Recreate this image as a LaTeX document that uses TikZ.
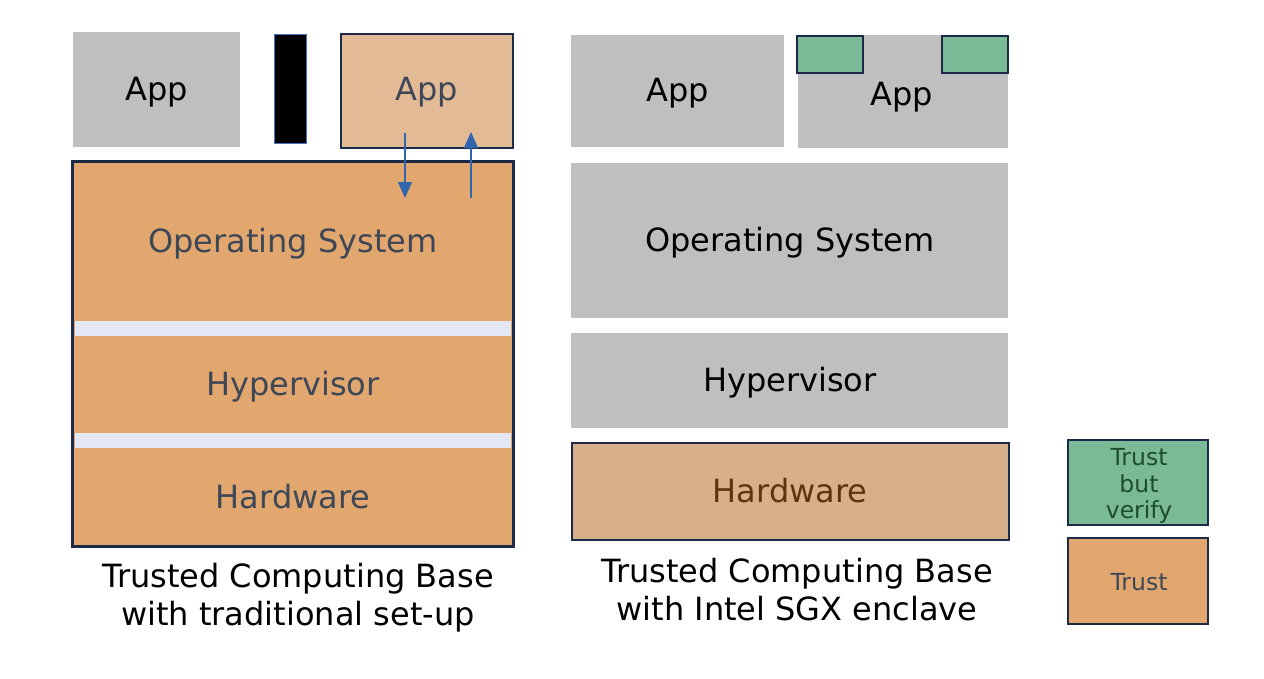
\documentclass[tikz,border=0pt]{standalone}
\usepackage{fontspec}
\setmainfont{DejaVu Sans}
\usetikzlibrary{arrows.meta}
\definecolor{boxgray}{HTML}{BFBFBF}
\definecolor{trustor}{HTML}{E2A76F}
\definecolor{lightor}{HTML}{E3BA96}
\definecolor{hwor}{HTML}{D8AF8B}
\definecolor{verigreen}{HTML}{7BBA96}
\definecolor{navy}{HTML}{1C2A48}
\definecolor{stripc}{HTML}{E3E8F4}
\definecolor{txtgray}{HTML}{3E4756}
\definecolor{arrblue}{HTML}{2F66AD}
\definecolor{barblue}{HTML}{4472C4}
\definecolor{hwtxt}{HTML}{5A3510}
\definecolor{greentxt}{HTML}{1E4D2B}
\tikzset{
  base/.style={rectangle, inner sep=0pt},
  fillbox/.style={base, fill=boxgray},
  navybox/.style={base, draw=navy, line width=2.8pt},
  lbl/.style={font=\fontsize{32}{38}\selectfont, inner sep=0pt},
  caption/.style={font=\fontsize{32}{38}\selectfont, align=center, inner sep=0pt, text=black},
  legend/.style={base, draw=navy, line width=2.2pt},
  legtxt/.style={font=\fontsize{23.5}{26.5}\selectfont, align=center, inner sep=0pt},
  flow/.style={arrblue, line width=1.2pt, -{Triangle[width=14pt,length=16pt]}}
}
\begin{document}
\begin{tikzpicture}[x=1pt,y=-1pt]
\useasboundingbox (0,0) rectangle (1264,678);
% ---------- left: traditional ----------
\node[fillbox, minimum width=167pt, minimum height=115pt] (appL) at (156.5,89.5) {};
\node[lbl, text=black] (appLt) at (157,92) {App};
\node[base, fill=black, draw=barblue, line width=1pt, minimum width=32pt, minimum height=109pt] (bar) at (290,88.5) {};
\node[navybox, fill=lightor, minimum width=172pt, minimum height=114pt] (appR) at (427,91) {};
\node[lbl, text=txtgray] (appRt) at (427,92) {App};
\node[base, fill=trustor, minimum width=440pt, minimum height=384pt] (tcb) at (293,354) {};
\fill[stripc] (75,321) rectangle (511,336);
\fill[stripc] (75,433) rectangle (511,448);
\draw[navy, line width=2.8pt] (tcb.north west) rectangle (tcb.south east);
\node[lbl, text=txtgray] (osL) at (293,244) {Operating System};
\node[lbl, text=txtgray] (hvL) at (293,387) {Hypervisor};
\node[lbl, text=txtgray] (hwL) at (293,497) {Hardware};
\coordinate (d1) at (405,133);
\coordinate (d2) at (405,198);
\coordinate (u1) at (471,198);
\coordinate (u2) at (471,132);
\draw[flow] (d1) -- (d2);
\draw[flow] (u1) -- (u2);
\node[caption] (capL) at (298,598) {Trusted Computing Base\\with traditional set-up};
% ---------- right: SGX ----------
\node[fillbox, minimum width=213pt, minimum height=112pt] (appA) at (677.5,91) {};
\node[lbl, text=black] (appAt) at (678,93) {App};
\node[fillbox, minimum width=210pt, minimum height=113pt] (appB) at (903,91.5) {};
\node[lbl, text=black] (appBt) at (902,97) {App};
\node[base, draw=navy, line width=2.5pt, fill=verigreen, minimum width=66pt, minimum height=37pt] (enc1) at (830,54.5) {};
\node[base, draw=navy, line width=2.5pt, fill=verigreen, minimum width=66pt, minimum height=37pt] (enc2) at (975,54.5) {};
\node[fillbox, minimum width=437pt, minimum height=155pt] (osR) at (789.5,240.5) {};
\node[lbl, text=black] (osRt) at (790,243) {Operating System};
\node[fillbox, minimum width=437pt, minimum height=95pt] (hvR) at (789.5,380.5) {};
\node[lbl, text=black] (hvRt) at (790,383) {Hypervisor};
\node[navybox, fill=hwor, minimum width=437pt, minimum height=97pt] (hwR) at (790.5,491.5) {};
\node[lbl, text=hwtxt] (hwRt) at (790,491) {Hardware};
\node[caption] (capR) at (797,590) {Trusted Computing Base\\with Intel SGX enclave};
% ---------- legend ----------
\node[legend, fill=verigreen, minimum width=140pt, minimum height=85pt] (lgV) at (1138,482.5) {};
\node[legtxt, text=greentxt] (lgVt) at (1139,486) {Trust\\but\\verify};
\node[legend, fill=trustor, minimum width=140pt, minimum height=86pt] (lgT) at (1138,581) {};
\node[legtxt, text=txtgray] (lgTt) at (1139,582) {Trust};
\end{tikzpicture}
\end{document}
